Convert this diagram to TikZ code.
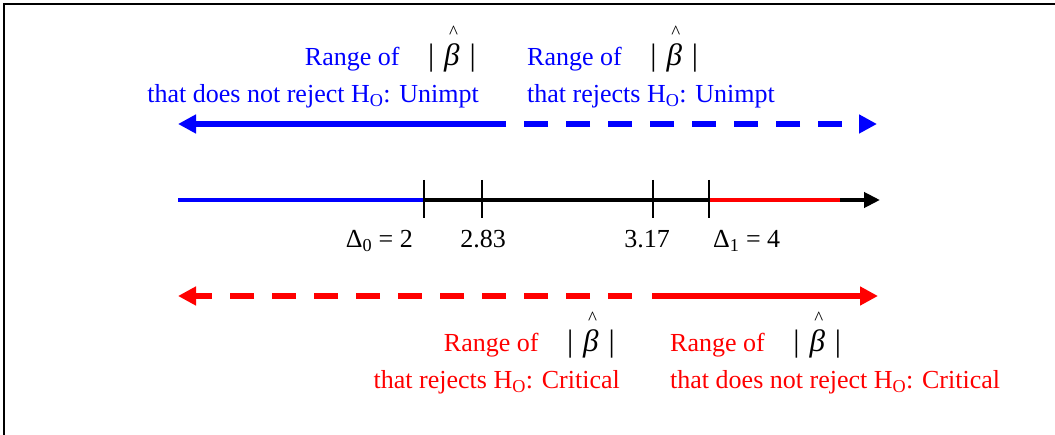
\documentclass[tikz,border=0pt]{standalone}
\usepackage{fontspec}
\setmainfont{Liberation Serif}
\usetikzlibrary{arrows.meta, positioning}
\newcommand{\absbetahat}{{\color{black}\fontsize{31}{31}\selectfont|\hspace{0.32em}\makebox[0pt][l]{\raisebox{27pt}{\hspace{0.16em}\fontsize{19}{19}\selectfont\textasciicircum}}\textit{β}\hspace{0.32em}|}}
\tikzset{
  rangearrow/.style = {line width=5.5pt, -{Triangle[length=18pt, width=18pt]}},
  rangearrowleft/.style = {line width=5.5pt, {Triangle[length=18pt, width=18pt]}-},
  dashpart/.style = {dash pattern=on 24pt off 18pt},
  axisline/.style = {line width=4.8pt},
  ticktick/.style = {line width=1.3pt},
  rangetext/.style = {inner sep=0pt, font=\fontsize{26}{30}\selectfont},
  numtext/.style = {inner sep=0pt, font=\fontsize{26}{30}\selectfont, text=black}
}

\begin{document}
\begin{tikzpicture}[x=1pt, y=-1pt]
\useasboundingbox (0,0) rectangle (1055,435);

% Frame
\draw[line width=2pt] (4,435) -- (4,4) -- (1055,4);

% Axis points
\coordinate (lo) at (178,200);
\coordinate (hi) at (880,200);
\coordinate (d0) at (424,200);
\coordinate (c1) at (482,200);
\coordinate (c2) at (653,200);
\coordinate (d1) at (709,200);
\coordinate (redend) at (840,200);

% Blue arrow (Unimpt)
\coordinate (bleft) at (178,124);
\coordinate (bmid) at (503,124);
\coordinate (bright) at (877,124);
\draw[rangearrowleft, blue] (bleft) -- (bmid);
\draw[rangearrowleft, blue, dashpart, dash phase=24pt] (bright) -- (bmid);

% Red arrow (Critical)
\coordinate (rleft) at (178,296);
\coordinate (rdash) at (632,296);
\coordinate (rmid) at (652,296);
\coordinate (rright) at (878,296);
\draw[rangearrow, red, dashpart] (rdash) -- (rleft);
\draw[rangearrow, red] (rmid) -- (rright);

% Number line
\draw[axisline, blue] (lo) -- (d0);
\draw[axisline, -{Triangle[length=16pt, width=15pt]}] (d0) -- (hi);
\draw[axisline, red] (d1) -- (redend);
\foreach \p in {d0, c1, c2, d1}
  \draw[ticktick] (\p) ++(0,-20) -- ++(0,38);

% Tick labels
\node[numtext, anchor=base east] (d0lab) at (413,248) {Δ\textsubscript{0} = 2};
\node[numtext, anchor=base] (c1lab) at (483,248) {2.83};
\node[numtext, anchor=base] (c2lab) at (647,248) {3.17};
\node[numtext, anchor=base west] (d1lab) at (713,248) {Δ\textsubscript{1} = 4};

% Blue labels
\node[rangetext, text=blue, anchor=base east] (unimptaccA) at (476,66) {Range of\hspace{1.1em}\absbetahat};
\node[rangetext, text=blue, anchor=base east] (unimptaccB) at (479,103) {that does not reject H\textsubscript{O}: Unimpt};
\node[rangetext, text=blue, anchor=base west] (unimptrejA) at (527,66) {Range of\hspace{1.1em}\absbetahat};
\node[rangetext, text=blue, anchor=base west] (unimptrejB) at (527,103) {that rejects H\textsubscript{O}: Unimpt};

% Red labels
\node[rangetext, text=red, anchor=base east] (critrejA) at (615,352) {Range of\hspace{1.1em}\absbetahat};
\node[rangetext, text=red, anchor=base east] (critrejB) at (620,389) {that rejects H\textsubscript{O}: Critical};
\node[rangetext, text=red, anchor=base west] (critaccA) at (670,352) {Range of\hspace{1.1em}\absbetahat};
\node[rangetext, text=red, anchor=base west] (critaccB) at (670,389) {that does not reject H\textsubscript{O}: Critical};

\end{tikzpicture}
\end{document}
